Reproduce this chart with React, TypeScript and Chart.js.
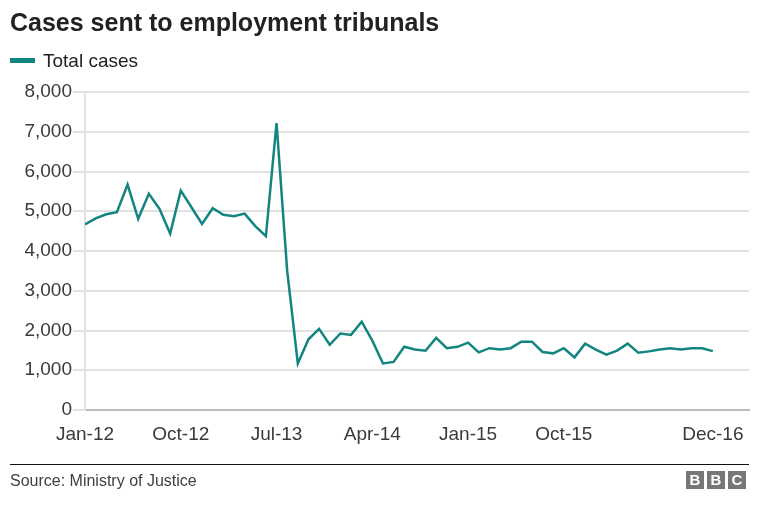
import React, { useEffect, useRef } from "react";
import { Chart, registerables } from "chart.js";

Chart.register(...registerables);

// Monthly cases, Jan-12 .. Dec-16
const totalCases: number[] = [
  4670, 4820, 4925, 4975, 5670, 4810, 5440, 5060, 4440, 5520,
  5100, 4680, 5075, 4910, 4875, 4940, 4625, 4375, 7220, 3500,
  1170, 1780, 2040, 1640, 1925, 1890, 2220, 1745, 1170, 1210,
  1590, 1520, 1490, 1815, 1555, 1590, 1695, 1450, 1555, 1520,
  1555, 1720, 1720, 1460, 1425, 1555, 1325, 1670, 1520, 1390,
  1495, 1670, 1440, 1475, 1520, 1555, 1520, 1555, 1555, 1480,
];

const tickIndices: number[] = [0, 9, 18, 27, 36, 45, 59];
const tickLabels: string[] = ["Jan-12", "Oct-12", "Jul-13", "Apr-14", "Jan-15", "Oct-15", "Dec-16"];
const yTicks: number[] = [0, 1000, 2000, 3000, 4000, 5000, 6000, 7000, 8000];

const TEAL = "#138581";
const FONT = "'Liberation Sans', Arial, Helvetica, sans-serif";

export default function App() {
  const ref = useRef<HTMLCanvasElement | null>(null);

  useEffect(() => {
    if (!ref.current) return;
    const chart = new Chart(ref.current, {
      type: "line",
      data: {
        datasets: [
          {
            label: "Total cases",
            data: totalCases.map((v, i) => ({ x: i, y: v })),
            borderColor: TEAL,
            borderWidth: 2.5,
            pointRadius: 0,
            tension: 0,
            fill: false,
          },
        ],
      },
      options: {
        animation: false,
        responsive: false,
        devicePixelRatio: 1,
        layout: { padding: { top: 92, right: 27, bottom: 0, left: 0 } },
        plugins: { legend: { display: false }, title: { display: false }, tooltip: { enabled: false } },
        scales: {
          x: {
            type: "linear",
            min: 0,
            max: 62.4,
            grid: { display: false, drawTicks: false },
            border: { display: true, color: "#bdbdbd", width: 2 },
            afterBuildTicks: (axis: any) => {
              axis.ticks = tickIndices.map((v) => ({ value: v }));
            },
            afterFit: (scale: any) => {
              scale.height = 96;
            },
            ticks: {
              autoSkip: false,
              maxRotation: 0,
              padding: 13,
              color: "#3a3a3a",
              font: { family: FONT, size: 19 },
              callback: (value: any) => {
                const k = tickIndices.indexOf(Number(value));
                return k >= 0 ? tickLabels[k] : "";
              },
            },
          },
          y: {
            type: "linear",
            min: 0,
            max: 8000,
            afterBuildTicks: (axis: any) => {
              axis.ticks = yTicks.map((v) => ({ value: v }));
            },
            afterFit: (scale: any) => {
              scale.width = 85;
            },
            grid: { color: "#e2e2e2", lineWidth: 2, tickLength: 12, drawTicks: true },
            border: { display: true, color: "#e2e2e2", width: 2 },
            ticks: {
              padding: 1,
              color: "#3a3a3a",
              font: { family: FONT, size: 19 },
              callback: (value: any) => Number(value).toLocaleString("en-US"),
            },
          },
        },
      },
    });
    return () => chart.destroy();
  }, []);

  return (
    <div
      style={{
        position: "fixed",
        left: 0,
        top: 0,
        width: 776,
        height: 506,
        background: "#fff",
        fontFamily: FONT,
        overflow: "hidden",
      }}
    >
      <canvas
        ref={ref}
        width={776}
        height={506}
        style={{ position: "absolute", left: 0, top: 0, width: 776, height: 506 }}
      />
      <div
        style={{
          position: "absolute",
          left: 10,
          top: 10,
          fontSize: 25,
          lineHeight: "25px",
          fontWeight: "bold",
          color: "#222",
          whiteSpace: "nowrap",
        }}
      >
        Cases sent to employment tribunals
      </div>
      <div style={{ position: "absolute", left: 10, top: 57.5, width: 25, height: 5, background: TEAL }} />
      <div
        style={{
          position: "absolute",
          left: 43,
          top: 51,
          fontSize: 19,
          lineHeight: "19px",
          color: "#222",
          whiteSpace: "nowrap",
        }}
      >
        Total cases
      </div>
      <div style={{ position: "absolute", left: 10, top: 464, width: 739, height: 1, background: "#111" }} />
      <div
        style={{
          position: "absolute",
          left: 10,
          top: 472.5,
          fontSize: 16,
          lineHeight: "16px",
          color: "#404040",
          whiteSpace: "nowrap",
        }}
      >
        Source: Ministry of Justice
      </div>
      <div style={{ position: "absolute", left: 686, top: 471, display: "flex", gap: 3 }}>
        {["B", "B", "C"].map((c, i) => (
          <div
            key={i}
            style={{
              width: 18,
              height: 18,
              background: "#777",
              color: "#fff",
              fontWeight: "bold",
              fontSize: 15,
              lineHeight: "18px",
              textAlign: "center",
            }}
          >
            {c}
          </div>
        ))}
      </div>
    </div>
  );
}
